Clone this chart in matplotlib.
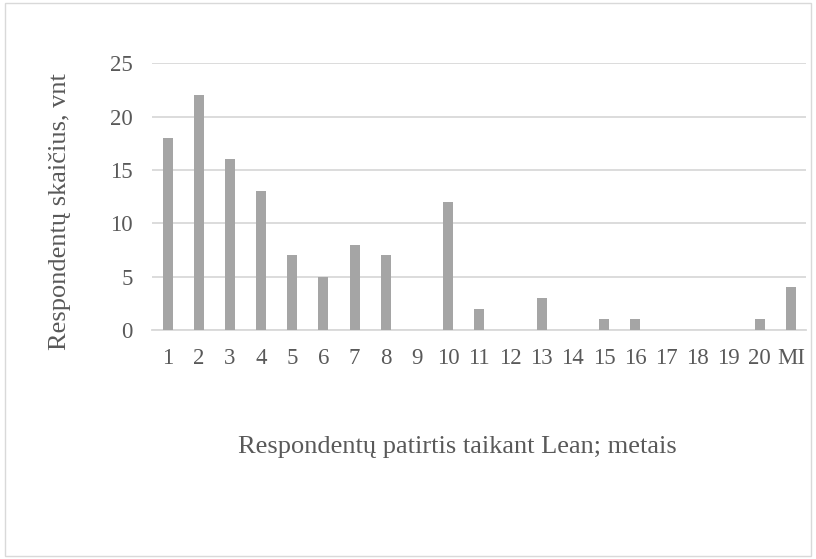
import matplotlib
matplotlib.use("Agg")
import matplotlib.pyplot as plt
from matplotlib.patches import Rectangle

# duomenys
categories = ["1", "2", "3", "4", "5", "6", "7", "8", "9", "10", "11", "12",
              "13", "14", "15", "16", "17", "18", "19", "20", "MI"]
counts = [18, 22, 16, 13, 7, 5, 8, 7, 0, 12, 2, 0, 3, 0, 1, 1, 0, 0, 0, 1, 4]
y_ticks = [0, 5, 10, 15, 20, 25]

plt.rcParams['font.family'] = ['Liberation Serif', 'DejaVu Serif']

fig = plt.figure(figsize=(8.16, 5.59), dpi=100)
ax = fig.add_axes([0.1863, 0.4097, 0.8020, 0.4771])

x = list(range(len(categories)))
ax.bar(x, counts, width=0.32, color='#A5A5A5', zorder=3)

ax.set_xlim(-0.5, len(categories) - 0.5)
ax.set_ylim(0, 25)
ax.set_yticks(y_ticks)
ax.set_xticks(x)
ax.set_xticklabels(categories)

ax.grid(axis='y', color='#D9D9D9', linewidth=1.3, zorder=0)
ax.set_axisbelow(True)
for s in ['top', 'right', 'left']:
    ax.spines[s].set_visible(False)
ax.spines['bottom'].set_color('#D9D9D9')
ax.spines['bottom'].set_linewidth(1.3)
ax.tick_params(axis='both', length=0, labelsize=16.5, labelcolor='#595959')
ax.tick_params(axis='y', pad=14)
ax.tick_params(axis='x', pad=13)

# ašių pavadinimai
fig.text(0.561, 0.2004, "Respondentų patirtis taikant Lean; metais",
         ha='center', va='center', fontsize=19, color='#595959')
fig.text(0.0735, 0.6207, "Respondentų skaičius, vnt", rotation=90,
         ha='center', va='center', fontsize=19, color='#595959')

# rėmelis
fig.patches.append(Rectangle((0.006, 0.006), 0.988, 0.988, transform=fig.transFigure,
                             fill=False, edgecolor='#D9D9D9', linewidth=1.0))

fig.savefig("out.png", dpi=100, facecolor='white')
